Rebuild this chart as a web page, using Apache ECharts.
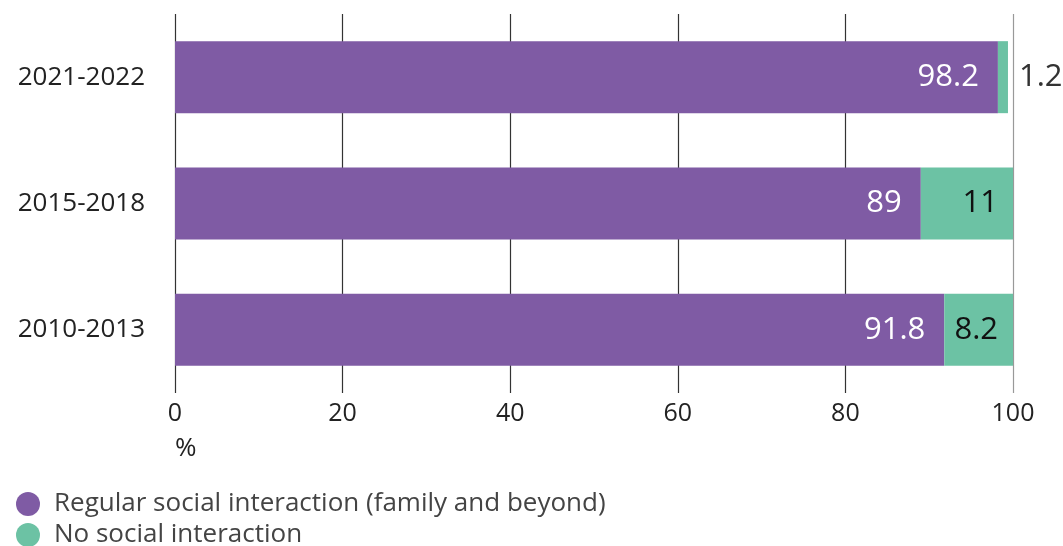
<!DOCTYPE html>
<html><head><meta charset="utf-8">
<script src="https://cdn.jsdelivr.net/npm/echarts@6/dist/echarts.min.js"></script>
<style>html,body{margin:0;padding:0;background:#fff}#c{width:1063px;height:546px}</style>
</head><body><div id="c"></div>
<script>
const categories = ['2010-2013', '2015-2018', '2021-2022'];
const regular = [91.8, 89, 98.2];
const none = [8.2, 11, 1.2];
const xTicks = [0, 20, 40, 60, 80, 100];
const seriesNames = ['Regular social interaction (family and beyond)', 'No social interaction'];
const FONT = '"Open Sans", Lato, sans-serif';
const legendBase = {
  orient: 'vertical', left: 16, padding: 0, itemWidth: 24, itemHeight: 24,
  icon: 'circle', textStyle: { fontSize: 26, lineHeight: 28, color: '#444', fontFamily: FONT, padding: [0, 0, 0, 9] }
};
const chart = echarts.init(document.getElementById('c'));
chart.setOption({
  animation: false,
  textStyle: { fontFamily: FONT },
  grid: { left: 175, right: 50, top: 14, bottom: 153, containLabel: false },
  xAxis: {
    type: 'value', min: 0, max: 100, interval: 20,
    axisLine: { show: false },
    axisTick: { show: false },
    axisLabel: { fontSize: 25, color: '#222', margin: 8, fontFamily: FONT,
      formatter: v => xTicks.includes(v) ? String(v) : '' },
    splitLine: { show: true, lineStyle: { color: ['#333', '#333', '#333', '#333', '#333', '#999'], width: 1.2 } }
  },
  yAxis: {
    type: 'category', data: categories,
    axisLine: { show: false }, axisTick: { show: false },
    axisLabel: { fontSize: 26, color: '#222', margin: 30, fontFamily: FONT }
  },
  legend: [
    Object.assign({}, legendBase, { top: 490, data: [seriesNames[0]] }),
    Object.assign({}, legendBase, { top: 521, data: [seriesNames[1]] })
  ],
  graphic: [{ type: 'text', left: 175, top: 436, style: { text: '%', fontSize: 26, fill: '#222', fontFamily: FONT } }],
  series: [
    { name: seriesNames[0], type: 'bar', stack: 's', data: regular, barWidth: '57%',
      itemStyle: { color: '#7F5BA4' },
      label: { show: true, position: 'insideRight', distance: 19, color: '#fff', fontSize: 31, fontFamily: FONT } },
    { name: seriesNames[1], type: 'bar', stack: 's',
      data: none.map((v, i) => v < 3 ? { value: v, label: { position: 'right', distance: 11, color: '#333' } } : v),
      itemStyle: { color: '#6CC2A4' },
      label: { show: true, position: 'insideRight', distance: 15, color: '#111', fontSize: 31, fontFamily: FONT } }
  ]
});
</script></body></html>
